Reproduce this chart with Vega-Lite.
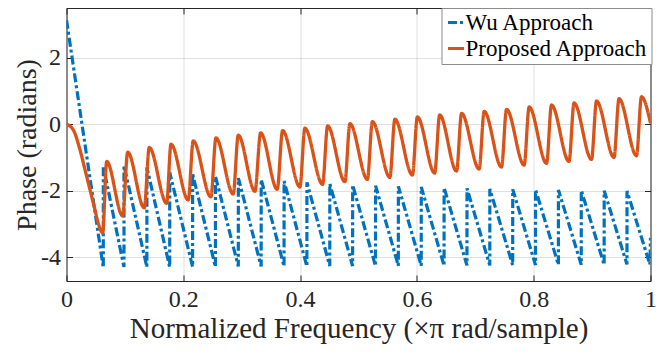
{
  "$schema": "https://vega.github.io/schema/vega-lite/v6.json",
  "width": 584,
  "height": 273,
  "autosize": {"type": "none"},
  "padding": {"left": 66.5, "top": 8, "right": 16.5, "bottom": 73},
  "background": "white",
  "config": {
    "font": "Liberation Serif",
    "view": {"stroke": "#262626", "strokeWidth": 1},
    "axis": {
      "labelFont": "Liberation Serif",
      "titleFont": "Liberation Serif",
      "labelColor": "#262626",
      "titleColor": "#262626",
      "tickColor": "#262626",
      "gridColor": "#262626",
      "gridOpacity": 0.15,
      "gridWidth": 1,
      "domain": false,
      "titleFontWeight": "normal"
    }
  },
  "data": {
    "values": [
      {"series": "Wu Approach", "x": 0, "y": 3.14},
      {"series": "Wu Approach", "x": 0.063, "y": -4.32},
      {"series": "Wu Approach", "x": 0.0631, "y": -1.27},
      {"series": "Wu Approach", "x": 0.0984, "y": -4.3},
      {"series": "Wu Approach", "x": 0.0985, "y": -1.25},
      {"series": "Wu Approach", "x": 0.1376, "y": -4.3},
      {"series": "Wu Approach", "x": 0.1377, "y": -1.3},
      {"series": "Wu Approach", "x": 0.1767, "y": -4.3},
      {"series": "Wu Approach", "x": 0.1768, "y": -1.45},
      {"series": "Wu Approach", "x": 0.2159, "y": -4.29},
      {"series": "Wu Approach", "x": 0.216, "y": -1.5},
      {"series": "Wu Approach", "x": 0.255, "y": -4.29},
      {"series": "Wu Approach", "x": 0.2551, "y": -1.57},
      {"series": "Wu Approach", "x": 0.2942, "y": -4.28},
      {"series": "Wu Approach", "x": 0.2943, "y": -1.62},
      {"series": "Wu Approach", "x": 0.3333, "y": -4.28},
      {"series": "Wu Approach", "x": 0.3334, "y": -1.66},
      {"series": "Wu Approach", "x": 0.3725, "y": -4.28},
      {"series": "Wu Approach", "x": 0.3726, "y": -1.71},
      {"series": "Wu Approach", "x": 0.4116, "y": -4.28},
      {"series": "Wu Approach", "x": 0.4117, "y": -1.75},
      {"series": "Wu Approach", "x": 0.4508, "y": -4.27},
      {"series": "Wu Approach", "x": 0.4509, "y": -1.79},
      {"series": "Wu Approach", "x": 0.4899, "y": -4.27},
      {"series": "Wu Approach", "x": 0.49, "y": -1.83},
      {"series": "Wu Approach", "x": 0.5291, "y": -4.27},
      {"series": "Wu Approach", "x": 0.5292, "y": -1.85},
      {"series": "Wu Approach", "x": 0.5682, "y": -4.26},
      {"series": "Wu Approach", "x": 0.5683, "y": -1.87},
      {"series": "Wu Approach", "x": 0.6074, "y": -4.26},
      {"series": "Wu Approach", "x": 0.6075, "y": -1.89},
      {"series": "Wu Approach", "x": 0.6465, "y": -4.26},
      {"series": "Wu Approach", "x": 0.6466, "y": -1.91},
      {"series": "Wu Approach", "x": 0.6857, "y": -4.25},
      {"series": "Wu Approach", "x": 0.6858, "y": -1.93},
      {"series": "Wu Approach", "x": 0.7248, "y": -4.25},
      {"series": "Wu Approach", "x": 0.7249, "y": -1.95},
      {"series": "Wu Approach", "x": 0.764, "y": -4.24},
      {"series": "Wu Approach", "x": 0.7641, "y": -1.96},
      {"series": "Wu Approach", "x": 0.8031, "y": -4.24},
      {"series": "Wu Approach", "x": 0.8032, "y": -1.97},
      {"series": "Wu Approach", "x": 0.8423, "y": -4.23},
      {"series": "Wu Approach", "x": 0.8424, "y": -1.98},
      {"series": "Wu Approach", "x": 0.8814, "y": -4.23},
      {"series": "Wu Approach", "x": 0.8815, "y": -1.99},
      {"series": "Wu Approach", "x": 0.9206, "y": -4.23},
      {"series": "Wu Approach", "x": 0.9207, "y": -2.0},
      {"series": "Wu Approach", "x": 0.9597, "y": -4.22},
      {"series": "Wu Approach", "x": 0.9598, "y": -2.01},
      {"series": "Wu Approach", "x": 0.9989, "y": -4.22},
      {"series": "Wu Approach", "x": 1.0, "y": -3.42},
      {"series": "Proposed Approach", "x": 0, "y": 0},
      {"series": "Proposed Approach", "x": 0.0116, "y": -0.17},
      {"series": "Proposed Approach", "x": 0.0231, "y": -0.77},
      {"series": "Proposed Approach", "x": 0.0317, "y": -1.37},
      {"series": "Proposed Approach", "x": 0.0402, "y": -1.97},
      {"series": "Proposed Approach", "x": 0.0488, "y": -2.58},
      {"series": "Proposed Approach", "x": 0.0544, "y": -2.98},
      {"series": "Proposed Approach", "x": 0.062, "y": -3.27},
      {"series": "Proposed Approach", "x": 0.0688, "y": -1.12},
      {"series": "Proposed Approach", "x": 0.0962, "y": -2.76},
      {"series": "Proposed Approach", "x": 0.1048, "y": -0.84},
      {"series": "Proposed Approach", "x": 0.1332, "y": -2.52},
      {"series": "Proposed Approach", "x": 0.1417, "y": -0.7},
      {"series": "Proposed Approach", "x": 0.1715, "y": -2.38},
      {"series": "Proposed Approach", "x": 0.1789, "y": -0.6},
      {"series": "Proposed Approach", "x": 0.2085, "y": -2.28},
      {"series": "Proposed Approach", "x": 0.217, "y": -0.5},
      {"series": "Proposed Approach", "x": 0.2473, "y": -2.19},
      {"series": "Proposed Approach", "x": 0.2559, "y": -0.41},
      {"series": "Proposed Approach", "x": 0.2855, "y": -2.1},
      {"series": "Proposed Approach", "x": 0.2941, "y": -0.33},
      {"series": "Proposed Approach", "x": 0.3227, "y": -2.02},
      {"series": "Proposed Approach", "x": 0.3324, "y": -0.26},
      {"series": "Proposed Approach", "x": 0.3608, "y": -1.96},
      {"series": "Proposed Approach", "x": 0.3701, "y": -0.19},
      {"series": "Proposed Approach", "x": 0.3997, "y": -1.89},
      {"series": "Proposed Approach", "x": 0.4082, "y": -0.12},
      {"series": "Proposed Approach", "x": 0.4385, "y": -1.81},
      {"series": "Proposed Approach", "x": 0.4471, "y": -0.05},
      {"series": "Proposed Approach", "x": 0.4767, "y": -1.73},
      {"series": "Proposed Approach", "x": 0.4853, "y": 0.02},
      {"series": "Proposed Approach", "x": 0.5152, "y": -1.66},
      {"series": "Proposed Approach", "x": 0.5238, "y": 0.08},
      {"series": "Proposed Approach", "x": 0.5537, "y": -1.6},
      {"series": "Proposed Approach", "x": 0.5623, "y": 0.15},
      {"series": "Proposed Approach", "x": 0.5923, "y": -1.53},
      {"series": "Proposed Approach", "x": 0.6008, "y": 0.22},
      {"series": "Proposed Approach", "x": 0.6304, "y": -1.47},
      {"series": "Proposed Approach", "x": 0.639, "y": 0.28},
      {"series": "Proposed Approach", "x": 0.6679, "y": -1.41},
      {"series": "Proposed Approach", "x": 0.6765, "y": 0.33},
      {"series": "Proposed Approach", "x": 0.7066, "y": -1.35},
      {"series": "Proposed Approach", "x": 0.7152, "y": 0.39},
      {"series": "Proposed Approach", "x": 0.7449, "y": -1.29},
      {"series": "Proposed Approach", "x": 0.7535, "y": 0.45},
      {"series": "Proposed Approach", "x": 0.7836, "y": -1.23},
      {"series": "Proposed Approach", "x": 0.7922, "y": 0.52},
      {"series": "Proposed Approach", "x": 0.822, "y": -1.18},
      {"series": "Proposed Approach", "x": 0.8305, "y": 0.58},
      {"series": "Proposed Approach", "x": 0.8605, "y": -1.12},
      {"series": "Proposed Approach", "x": 0.8691, "y": 0.64},
      {"series": "Proposed Approach", "x": 0.899, "y": -1.06},
      {"series": "Proposed Approach", "x": 0.9076, "y": 0.7},
      {"series": "Proposed Approach", "x": 0.9375, "y": -1.0},
      {"series": "Proposed Approach", "x": 0.9461, "y": 0.77},
      {"series": "Proposed Approach", "x": 0.976, "y": -0.95},
      {"series": "Proposed Approach", "x": 0.9846, "y": 0.83},
      {"series": "Proposed Approach", "x": 1.0, "y": 0.03}
    ]
  },
  "encoding": {
    "color": {
      "field": "series",
      "type": "nominal",
      "scale": {"domain": ["Wu Approach", "Proposed Approach"], "range": ["#0072BD", "#D95319"]},
      "legend": {
        "title": null,
        "orient": "none",
        "legendX": 375,
        "legendY": 0,
        "labelFont": "Liberation Serif",
        "labelFontSize": 23,
        "labelColor": "#000000",
        "labelLimit": 400,
        "symbolType": "stroke",
        "symbolSize": 256,
        "symbolStrokeWidth": 3,
        "fillColor": "white",
        "strokeColor": "#8c8c8c",
        "padding": 3,
        "rowPadding": 2,
        "labelOffset": -2,
        "cornerRadius": 0
      }
    },
    "strokeDash": {
      "field": "series",
      "type": "nominal",
      "scale": {"domain": ["Wu Approach", "Proposed Approach"], "range": [[9, 3, 3, 3], [1, 0]]},
      "legend": {
        "title": null,
        "orient": "none",
        "legendX": 375,
        "legendY": 0,
        "labelFont": "Liberation Serif",
        "labelFontSize": 23,
        "labelColor": "#000000",
        "labelLimit": 400,
        "symbolType": "stroke",
        "symbolSize": 256,
        "symbolStrokeWidth": 3,
        "fillColor": "white",
        "strokeColor": "#8c8c8c",
        "padding": 3,
        "rowPadding": 2,
        "labelOffset": -2,
        "cornerRadius": 0
      }
    }
  },
  "layer": [
    {
      "transform": [{"filter": "datum.series === 'Wu Approach'"}],
      "mark": {"type": "line", "strokeWidth": 3.2, "clip": true, "interpolate": "linear", "strokeCap": "butt"},
      "encoding": {
        "x": {
          "field": "x", "type": "quantitative",
          "scale": {"domain": [0, 1], "nice": false, "zero": false},
          "axis": {
            "orient": "bottom",
            "title": "Normalized Frequency (×π rad/sample)",
            "titleFontSize": 29,
            "titlePadding": 3,
            "values": [0, 0.2, 0.4, 0.6, 0.8, 1],
            "labelExpr": "toString(datum.value)",
            "labelFontSize": 24,
            "labelPadding": 12,
            "tickSize": -6,
            "grid": true,
            "labelFlush": false
          }
        },
        "y": {
          "field": "y", "type": "quantitative",
          "scale": {"domain": [-4.72, 3.5], "nice": false, "zero": false},
          "axis": {
            "orient": "left",
            "title": "Phase (radians)",
            "titleFontSize": 28,
            "titlePadding": -1,
            "values": [-4, -2, 0, 2],
            "labelExpr": "toString(datum.value)",
            "labelFontSize": 24,
            "labelPadding": 12,
            "tickSize": -6,
            "grid": true
          }
        }
      }
    },
    {
      "transform": [{"filter": "datum.series === 'Proposed Approach'"}],
      "mark": {"type": "line", "strokeWidth": 3.3, "clip": true, "interpolate": "monotone"},
      "encoding": {
        "x": {
          "field": "x", "type": "quantitative",
          "scale": {"domain": [0, 1], "nice": false, "zero": false},
          "axis": {
            "orient": "top",
            "title": null,
            "labels": false,
            "values": [0, 0.2, 0.4, 0.6, 0.8, 1],
            "tickSize": -6,
            "grid": false
          }
        },
        "y": {
          "field": "y", "type": "quantitative",
          "scale": {"domain": [-4.72, 3.5], "nice": false, "zero": false},
          "axis": {
            "orient": "right",
            "title": null,
            "labels": false,
            "values": [-4, -2, 0, 2],
            "tickSize": -6,
            "grid": false
          }
        }
      }
    }
  ],
  "resolve": {"axis": {"x": "independent", "y": "independent"}}
}
